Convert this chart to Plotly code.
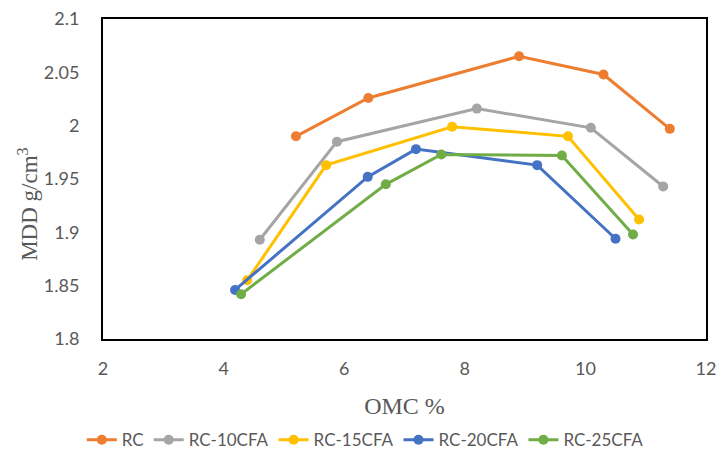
import plotly.graph_objects as go

series_names = ["RC", "RC-10CFA", "RC-15CFA", "RC-20CFA", "RC-25CFA"]
colors = ["#ED7D31", "#A5A5A5", "#FFC000", "#4472C4", "#70AD47"]

omc_rc = [5.2, 6.4, 8.9, 10.3, 11.4]
mdd_rc = [1.990, 2.026, 2.065, 2.048, 1.997]

omc_10 = [4.6, 5.88, 8.2, 10.09, 11.29]
mdd_10 = [1.893, 1.985, 2.016, 1.998, 1.943]

omc_15 = [4.39, 5.7, 7.79, 9.71, 10.89]
mdd_15 = [1.855, 1.963, 1.999, 1.990, 1.912]

omc_20 = [4.19, 6.39, 7.19, 9.2, 10.5]
mdd_20 = [1.846, 1.952, 1.978, 1.963, 1.894]

omc_25 = [4.29, 6.69, 7.61, 9.61, 10.79]
mdd_25 = [1.842, 1.945, 1.973, 1.972, 1.898]

xs = [omc_rc, omc_10, omc_15, omc_20, omc_25]
ys = [mdd_rc, mdd_10, mdd_15, mdd_20, mdd_25]

fig = go.Figure()
for name, c, x, y in zip(series_names, colors, xs, ys):
    fig.add_trace(go.Scatter(
        x=x, y=y, name=name, mode="lines+markers",
        line=dict(color=c, width=3),
        marker=dict(color=c, size=10),
    ))

tickfont = dict(family="Lato, Open Sans, sans-serif", size=18, color="#595959")
serif = "Liberation Serif, Times New Roman, serif"
fig.update_layout(
    width=718, height=450,
    margin=dict(l=103, r=12, t=19, b=111, autoexpand=False),
    paper_bgcolor="white", plot_bgcolor="white",
    showlegend=True,
    legend=dict(orientation="h", x=0.435, xanchor="center",
                y=-0.316, yanchor="middle",
                font=dict(family="Lato, Open Sans, sans-serif", size=17, color="#595959"),
                itemwidth=30, tracegroupgap=0),
    xaxis=dict(range=[2, 12], dtick=2, showgrid=False, zeroline=False,
               showline=True, linecolor="black", linewidth=2, mirror=True,
               tickfont=tickfont, ticks="", ticklabelstandoff=12,
               title=dict(text="OMC %", font=dict(family=serif, size=24, color="#595959"), standoff=20)),
    yaxis=dict(range=[1.8, 2.1], dtick=0.05, showgrid=False, zeroline=False,
               showline=True, linecolor="black", linewidth=2, mirror=True,
               tickfont=tickfont, ticks="", ticklabelstandoff=18),
    annotations=[dict(text="MDD g/cm<sup>3</sup>", textangle=-90, showarrow=False,
                      xref="paper", yref="paper", x=-0.124, y=0.42,
                      xanchor="center", yanchor="middle",
                      font=dict(family=serif, size=23, color="#595959"))],
)

fig.write_html("out.html")
